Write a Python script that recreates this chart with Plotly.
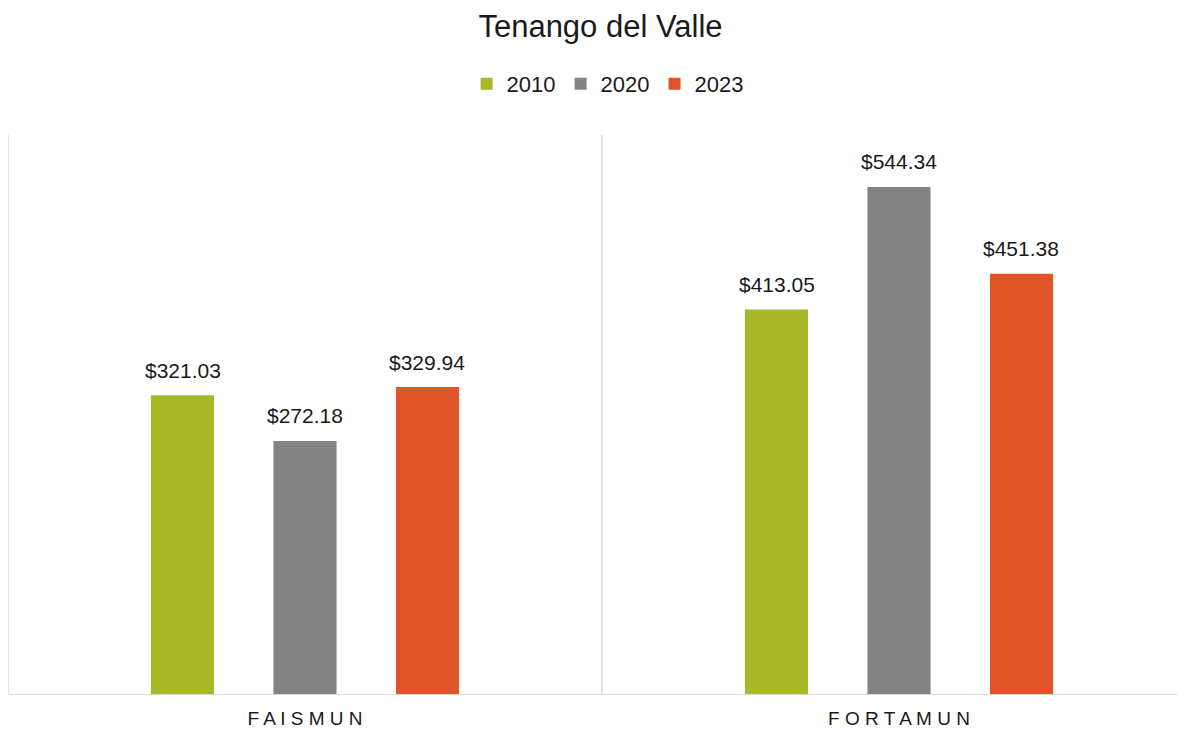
import plotly.graph_objects as go

categories = ["FAISMUN", "FORTAMUN"]
tick_labels = ["F A I S M U N", "F O R T A M U N"]
years = ["2010", "2020", "2023"]
values_2010 = [321.03, 413.05]
values_2020 = [272.18, 544.34]
values_2023 = [329.94, 451.38]
series = [values_2010, values_2020, values_2023]
colors = ["#A8B829", "#838383", "#E05527"]
FONT = "Liberation Sans, Arial"

fig = go.Figure()
offsets = [-1, 0, 1]
for name, vals, col in zip(years, series, colors):
    fig.add_trace(go.Bar(
        x=categories, y=vals, name=name, marker=dict(color=col, line=dict(width=0)),
    ))

fig.update_layout(
    width=1185, height=729,
    margin=dict(l=0, r=0, t=127, b=42),
    paper_bgcolor="white", plot_bgcolor="white",
    title=dict(text="Tenango del Valle", x=0.5, xanchor="center", y=0.975, yanchor="middle",
               font=dict(size=31, color="#1a1a1a", family=FONT)),
    legend=dict(orientation="h", x=0.506, xanchor="center", y=1.091, yanchor="middle",
                font=dict(size=22, color="#1a1a1a", family=FONT),
                traceorder="normal"),
    bargap=0.381, bargroupgap=0.485,
    font=dict(family=FONT),
)
fig.update_xaxes(type="category", range=[-0.5, 1.495], showgrid=False, zeroline=False,
                 showline=False, ticks="outside", ticklen=6, tickcolor="rgba(0,0,0,0)",
                 tickmode="array", tickvals=categories,
                 ticktext=tick_labels, tickfont=dict(size=19, color="#1a1a1a"))
fig.update_yaxes(range=[0, 600], showgrid=False, zeroline=False, showline=False,
                 showticklabels=False, ticks="")

# data labels above bars
slot = 0.206
for off, vals in zip(offsets, series):
    for i, v in enumerate(vals):
        fig.add_annotation(x=i + off * slot, y=v, xref="x", yref="y",
                           text="$%.2f" % v, showarrow=False, yanchor="middle",
                           yshift=25, font=dict(size=21, color="#1a1a1a", family=FONT))

for xv in [-0.5, 0.5]:
    fig.add_shape(type="line", xref="x", yref="y", x0=xv, x1=xv, y0=0, y1=600,
                  line=dict(color="#d9d9d9", width=1.5), layer="below")
fig.add_shape(type="line", xref="paper", yref="y", x0=0, x1=1, y0=0, y1=0,
              line=dict(color="#d9d9d9", width=2), layer="above")

fig.write_html("out.html")
